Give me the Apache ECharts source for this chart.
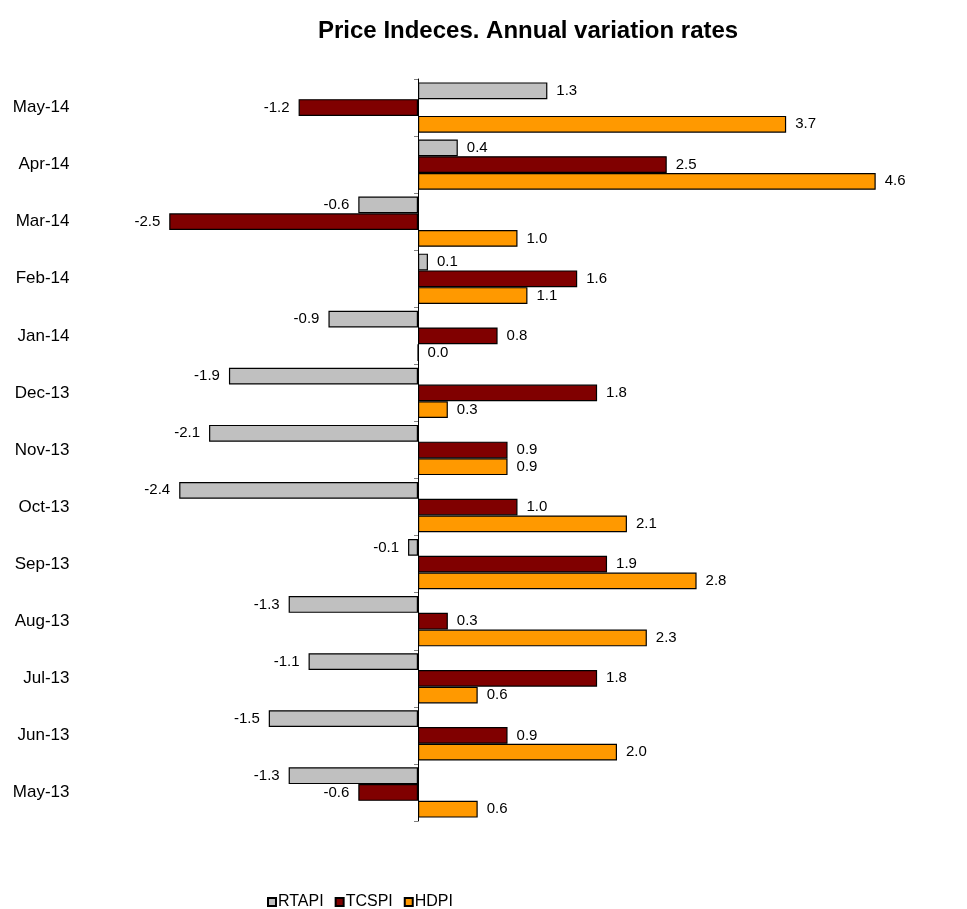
<!DOCTYPE html>
<html>
<head>
<meta charset="utf-8">
<script src="https://cdn.jsdelivr.net/npm/echarts@6/dist/echarts.min.js"></script>
<style>html,body{margin:0;padding:0;background:#fff}#c{width:967px;height:909px}</style>
</head>
<body>
<div id="c"></div>
<script>
var categories = ['May-14','Apr-14','Mar-14','Feb-14','Jan-14','Dec-13','Nov-13','Oct-13','Sep-13','Aug-13','Jul-13','Jun-13','May-13'];
var rtapi = [1.3, 0.4, -0.6, 0.1, -0.9, -1.9, -2.1, -2.4, -0.1, -1.3, -1.1, -1.5, -1.3];
var tcspi = [-1.2, 2.5, -2.5, 1.6, 0.8, 1.8, 0.9, 1.0, 1.9, 0.3, 1.8, 0.9, -0.6];
var hdpi  = [3.7, 4.6, 1.0, 1.1, 0.0, 0.3, 0.9, 2.1, 2.8, 2.3, 0.6, 2.0, 0.6];
var seriesNames = ['RTAPI','TCSPI','HDPI'];
var seriesColors = ['#C0C0C0','#800000','#FF9900'];

var FONT = 'Liberation Sans, Arial, sans-serif';
function toData(arr){
  return arr.map(function(v){
    return {value: v, label: {position: v < 0 ? 'left' : 'right'}};
  });
}
var seriesValues = [rtapi, tcspi, hdpi];
var series = seriesValues.map(function(arr, i){
  return {
    name: seriesNames[i],
    type: 'bar',
    yAxisIndex: 0,
    data: toData(arr),
    barGap: '0%',
    barCategoryGap: '12%',
    itemStyle: {color: seriesColors[i], borderColor: '#000', borderWidth: 1.2},
    label: {
      show: true,
      distance: 9,
      color: '#000',
      fontSize: 15,
      fontFamily: FONT,
      formatter: function(p){ return p.value.toFixed(1); }
    },
    emphasis: {disabled: true},
    animation: false
  };
});

var chart = echarts.init(document.getElementById('c'));
chart.setOption({
  backgroundColor: '#fff',
  animation: false,
  title: {
    text: 'Price Indeces. Annual variation rates',
    left: 318,
    top: 19,
    padding: 0,
    textStyle: {fontSize: 24, fontWeight: 'bold', color: '#000', fontFamily: FONT}
  },
  legend: {
    data: seriesNames,
    left: 267,
    top: 894,
    icon: 'rect',
    itemWidth: 8,
    itemHeight: 8,
    itemGap: 11,
    padding: 0,
    textStyle: {fontSize: 16, color: '#000', fontFamily: FONT, padding: [0, 0, 0, -3]}
  },
  grid: {left: 119.5, right: 51.5, top: 79, bottom: 88, containLabel: false},
  xAxis: {
    type: 'value', min: -3, max: 5, show: false,
    splitLine: {show: false}
  },
  yAxis: [{
    type: 'category',
    data: categories,
    inverse: true,
    position: 'left',
    axisLine: {show: false, onZero: false},
    axisTick: {show: false},
    axisLabel: {margin: 50, fontSize: 17, color: '#000', fontFamily: FONT}
  }, {
    type: 'category',
    data: categories,
    inverse: true,
    position: 'left',
    axisLine: {show: true, onZero: true, lineStyle: {color: '#000', width: 1}},
    axisTick: {show: true, length: 4, lineStyle: {color: '#808080'}},
    axisLabel: {show: false},
    splitLine: {show: false}
  }],
  series: series
});
</script>
</body>
</html>
